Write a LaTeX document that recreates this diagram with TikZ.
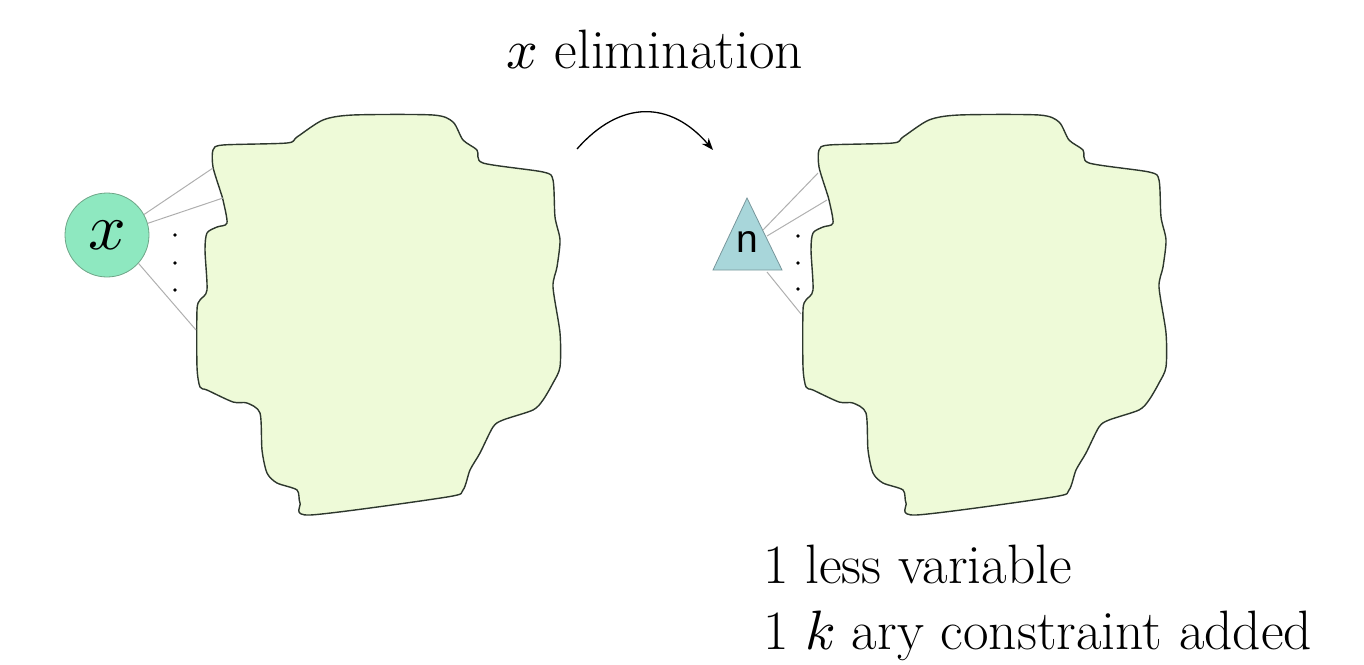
\documentclass[tikz,border=0pt]{standalone}
\usepackage{fontspec}
\usepackage{unicode-math}
\setmathfont{Latin Modern Math}
\newfontfamily\arialfont{Liberation Sans}
\usetikzlibrary{arrows.meta}
\definecolor{blobfill}{RGB}{238,250,216}
\definecolor{blobline}{RGB}{45,55,45}
\definecolor{mint}{RGB}{142,232,192}
\definecolor{mintline}{RGB}{110,165,135}
\definecolor{tri}{RGB}{168,214,218}
\definecolor{triline}{RGB}{120,150,155}
\definecolor{link}{RGB}{175,175,175}
\tikzset{
  blob/.style={fill=blobfill, draw=blobline, line width=1.4pt},
  linkline/.style={draw=link, line width=1pt},
  dotmark/.style={circle, fill=black, inner sep=0pt, minimum size=3.8pt},
  bigtext/.style={font=\fontsize{55.5}{66}\selectfont, anchor=base west, inner sep=0pt},
}
\def\blobpath{(213,150) (223,145) (287,143) (297,137) (323,120) (353,115) (433,115) (453,122) (463,140) (477,150) (483,163) (543,172) (553,180) (555,217) (560,240) (557,267) (553,287) (560,333) (560,367) (553,383) (543,400) (533,410) (503,420) (493,427) (480,453) (470,470) (463,490) (447,497) (310,515) (300,503) (297,490) (277,483) (267,473) (262,450) (260,413) (247,403) (233,402) (207,390) (200,387) (197,367) (197,310) (200,300) (207,290) (205,250) (207,233) (217,227) (227,223) (223,200) (220,190) (213,167)}
\begin{document}
\begin{tikzpicture}[x=1pt,y=-1pt]
\useasboundingbox (0,0) rectangle (1364,664);
% blobs
\draw[blob] plot[smooth cycle, tension=0.45] coordinates {\blobpath};
\begin{scope}[shift={(606,0)}]
\draw[blob] plot[smooth cycle, tension=0.45] coordinates {\blobpath};
\end{scope}
% left variable
\node[circle, fill=mint, draw=mintline, line width=0.8pt, minimum size=84pt, inner sep=0pt] (xnode) at (107,235) {\fontsize{66}{70}\selectfont$x$};
\coordinate (la1) at (213,168);
\coordinate (la2) at (223,198);
\coordinate (la3) at (196,330);
\draw[linkline] (xnode.29) -- (la1);
\draw[linkline] (xnode.16) -- (la2);
\draw[linkline] (xnode.-42) -- (la3);
\node[dotmark] (ld1) at (175,235) {};
\node[dotmark] (ld2) at (175,263) {};
\node[dotmark] (ld3) at (175,290) {};
% right constraint (triangle)
\coordinate (ta) at (747,198);
\coordinate (tl) at (713,270);
\coordinate (tr) at (782,270);
\draw[fill=tri, draw=triline, line width=0.8pt] (ta) -- (tl) -- (tr) -- cycle;
\node[inner sep=0pt, font=\arialfont\fontsize{39}{44}\selectfont] (nnode) at (747,242) {n};
\coordinate (ts1) at (763,230);
\coordinate (ts2) at (767,236);
\coordinate (ts3) at (767,272);
\coordinate (ra1) at (818,173);
\coordinate (ra2) at (827,200);
\coordinate (ra3) at (801,314);
\draw[linkline] (ts1) -- (ra1);
\draw[linkline] (ts2) -- (ra2);
\draw[linkline] (ts3) -- (ra3);
\node[dotmark] (rd1) at (798,236) {};
\node[dotmark] (rd2) at (798,263) {};
\node[dotmark] (rd3) at (798,289) {};
% arrow
\coordinate (as) at (577,149);
\coordinate (ae) at (713,150);
\draw[line width=1.3pt, -{Stealth[length=12pt,width=9pt]}] (as) .. controls (620,100) and (670,100) .. (ae);
% texts
\node[bigtext] (title) at (506,68) {$x$ elimination};
\node[bigtext] (note1) at (763,583) {1 less variable};
\node[bigtext] (note2) at (763,649) {1 $k$ ary constraint added};
\end{tikzpicture}
\end{document}
